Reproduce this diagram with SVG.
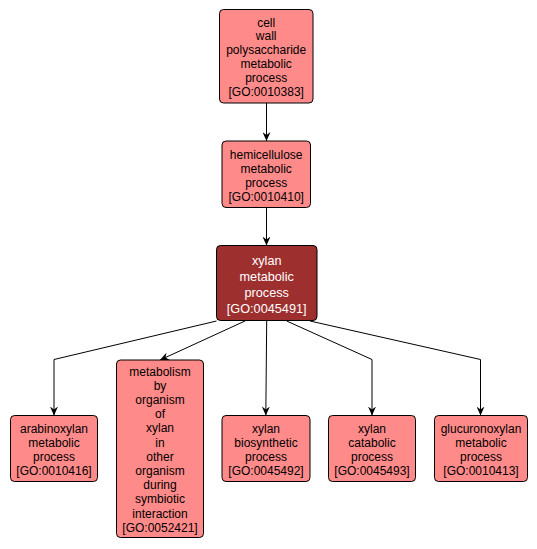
<svg xmlns="http://www.w3.org/2000/svg" width="537" height="549" viewBox="0 0 537 549">
<style>
.n rect{fill:#ff8a8a;stroke:#000;stroke-width:1}
.n text{font-family:"Liberation Sans",Arial,sans-serif;font-size:12px;fill:#000;text-anchor:middle}
.d rect{fill:#9e2f2f;stroke:#000;stroke-width:1}
.d text{font-family:"Liberation Sans",Arial,sans-serif;font-size:12.7px;fill:#fff;text-anchor:middle}
.e{fill:none;stroke:#000;stroke-width:1}
</style>
<defs>
<marker id="a" markerWidth="10" markerHeight="8" refX="9" refY="4" orient="auto" markerUnits="userSpaceOnUse" viewBox="0 0 10 8">
<path d="M0,0 L9,4 L0,8 L3,4 Z" fill="#000"/>
</marker>
</defs>
<rect width="537" height="549" fill="#fff"/>
<g id="edges">
<path class="e" d="M266.5,103 V141" marker-end="url(#a)"/>
<path class="e" d="M266.5,207.5 V245.5" marker-end="url(#a)"/>
<path class="e" d="M216.5,321 L54,359.5 V415.5" marker-end="url(#a)"/>
<path class="e" d="M245,321 L160,360" marker-end="url(#a)"/>
<path class="e" d="M266.7,321 L265.8,415.5" marker-end="url(#a)"/>
<path class="e" d="M286.7,321 L372,359.5 V415.5" marker-end="url(#a)"/>
<path class="e" d="M310,321 L480.5,359.5 V415.5" marker-end="url(#a)"/>
</g>
<g id="n0010383" class="n">
<rect x="219.5" y="9.5" width="93.5" height="93.5" rx="4"/>
<text x="266.2" y="26.5">cell</text>
<text x="266.2" y="40.3">wall</text>
<text x="266.2" y="54.1">polysaccharide</text>
<text x="266.2" y="67.9">metabolic</text>
<text x="266.2" y="81.7">process</text>
<text x="266.2" y="95.5">[GO:0010383]</text>
</g>
<g id="n0010410" class="n">
<rect x="222" y="141" width="88.5" height="66.5" rx="4"/>
<text x="266.2" y="158.5">hemicellulose</text>
<text x="266.2" y="172.5">metabolic</text>
<text x="266.2" y="186.5">process</text>
<text x="266.2" y="200.5">[GO:0010410]</text>
</g>
<g id="n0045491" class="d">
<rect x="216.5" y="245.5" width="100.5" height="75" rx="4"/>
<text x="266.7" y="264.5">xylan</text>
<text x="266.7" y="280.5">metabolic</text>
<text x="266.7" y="296.5">process</text>
<text x="266.7" y="312.5">[GO:0045491]</text>
</g>
<g id="n0010416" class="n">
<rect x="10.5" y="415.5" width="87" height="66" rx="4"/>
<text x="54" y="432.5">arabinoxylan</text>
<text x="54" y="446.5">metabolic</text>
<text x="54" y="460.5">process</text>
<text x="54" y="474.5">[GO:0010416]</text>
</g>
<g id="n0052421" class="n">
<rect x="116.5" y="360" width="87" height="177.5" rx="4"/>
<text x="160" y="375.5">metabolism</text>
<text x="160" y="389.7">by</text>
<text x="160" y="403.9">organism</text>
<text x="160" y="418.1">of</text>
<text x="160" y="432.3">xylan</text>
<text x="160" y="446.5">in</text>
<text x="160" y="460.7">other</text>
<text x="160" y="474.9">organism</text>
<text x="160" y="489.1">during</text>
<text x="160" y="503.3">symbiotic</text>
<text x="160" y="517.5">interaction</text>
<text x="160" y="531.7">[GO:0052421]</text>
</g>
<g id="n0045492" class="n">
<rect x="222" y="415.5" width="88" height="66" rx="4"/>
<text x="266" y="432.5">xylan</text>
<text x="266" y="446.5">biosynthetic</text>
<text x="266" y="460.5">process</text>
<text x="266" y="474.5">[GO:0045492]</text>
</g>
<g id="n0045493" class="n">
<rect x="328.5" y="415.5" width="87" height="66" rx="4"/>
<text x="372" y="432.5">xylan</text>
<text x="372" y="446.5">catabolic</text>
<text x="372" y="460.5">process</text>
<text x="372" y="474.5">[GO:0045493]</text>
</g>
<g id="n0010413" class="n">
<rect x="434.5" y="415.5" width="93" height="66" rx="4"/>
<text x="481" y="432.5">glucuronoxylan</text>
<text x="481" y="446.5">metabolic</text>
<text x="481" y="460.5">process</text>
<text x="481" y="474.5">[GO:0010413]</text>
</g>
</svg>
